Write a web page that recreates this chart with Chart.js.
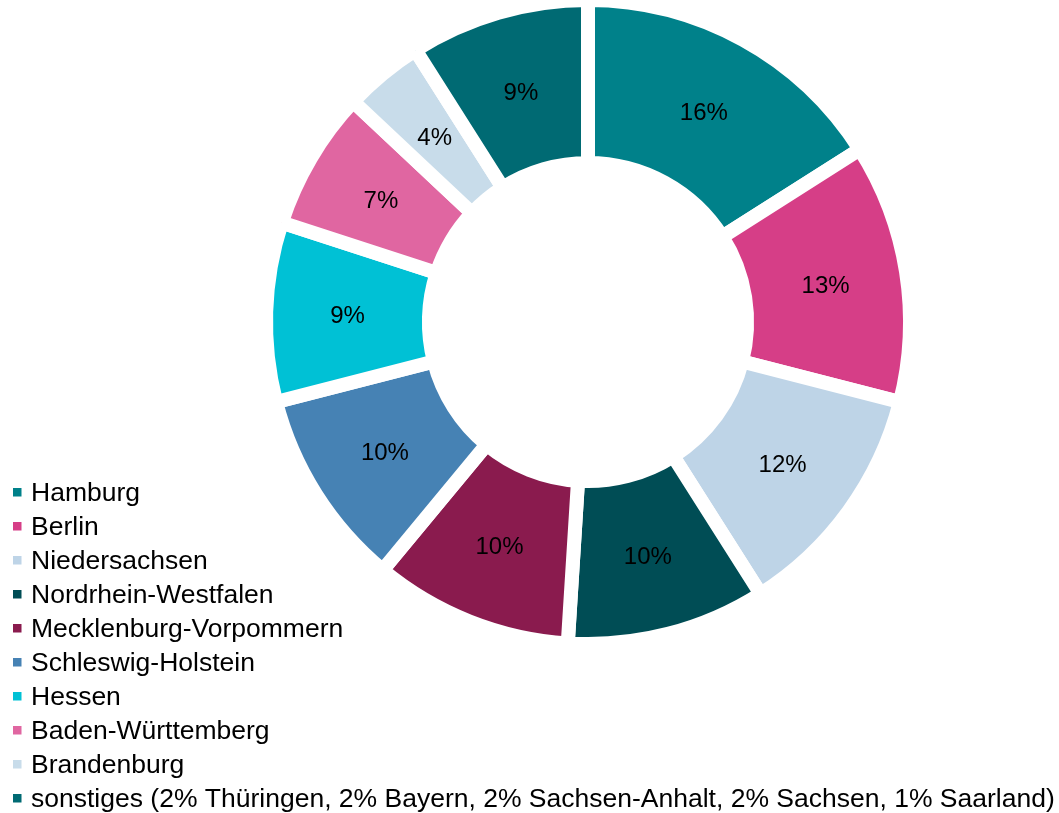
<!DOCTYPE html>
<html>
<head>
<meta charset="utf-8">
<script src="https://cdn.jsdelivr.net/npm/chart.js@4/dist/chart.umd.min.js"></script>
<style>
  html, body { margin: 0; padding: 0; background: #fff; }
  #wrap { position: relative; width: 1059px; height: 813px; }
</style>
</head>
<body>
<div id="wrap"><canvas id="myChart" width="1059" height="813"></canvas></div>
<script>
const regions = [
    'Hamburg',
    'Berlin',
    'Niedersachsen',
    'Nordrhein-Westfalen',
    'Mecklenburg-Vorpommern',
    'Schleswig-Holstein',
    'Hessen',
    'Baden-Württemberg',
    'Brandenburg',
    'sonstiges (2% Thüringen, 2% Bayern, 2% Sachsen-Anhalt, 2% Sachsen, 1% Saarland)'
];
const shares = [16, 13, 12, 10, 10, 10, 9, 7, 4, 9];
const sliceColors = [
    '#00818a', '#d63e87', '#bed4e7', '#004d55', '#8a1b4e',
    '#4682b4', '#00c1d5', '#e066a1', '#c8dcea', '#006a73'
];

const LABEL_FONT = '24px "Liberation Sans", Arial, sans-serif';
const LEGEND_FONT = '26.5px "Liberation Sans", Arial, sans-serif';

// percentage labels in the middle of each ring segment
const sliceLabels = {
    id: 'sliceLabels',
    afterDatasetsDraw(chart) {
        const ctx = chart.ctx;
        const meta = chart.getDatasetMeta(0);
        ctx.save();
        ctx.font = LABEL_FONT;
        ctx.fillStyle = '#000';
        ctx.textAlign = 'center';
        ctx.textBaseline = 'middle';
        meta.data.forEach((arc, i) => {
            const p = arc.getCenterPoint();
            ctx.fillText(shares[i] + '%', p.x, p.y + 2);
        });
        ctx.restore();
    }
};

// vertical legend in the bottom-left corner
const bottomLegend = {
    id: 'bottomLegend',
    afterDraw(chart) {
        const ctx = chart.ctx;
        const labels = chart.data.labels;
        const colors = chart.data.datasets[0].backgroundColor;
        ctx.save();
        ctx.font = LEGEND_FONT;
        ctx.textAlign = 'left';
        ctx.textBaseline = 'alphabetic';
        labels.forEach((label, i) => {
            const base = 501 + i * 34;
            ctx.fillStyle = colors[i];
            ctx.fillRect(13, base - 13, 8.5, 8.5);
            ctx.fillStyle = '#000';
            ctx.fillText(label, 31, base);
        });
        ctx.restore();
    }
};

const ctx = document.getElementById('myChart').getContext('2d');
new Chart(ctx, {
    type: 'doughnut',
    data: {
        labels: regions,
        datasets: [{
            data: shares,
            backgroundColor: sliceColors,
            borderColor: '#ffffff',
            borderWidth: 14,
            borderAlign: 'center',
            borderJoinStyle: 'miter',
            radius: 322,
            cutout: '49.4%'
        }]
    },
    options: {
        responsive: false,
        animation: false,
        events: [],
        layout: { padding: { left: 117, right: 0, top: 0, bottom: 169 } },
        plugins: {
            legend: { display: false },
            tooltip: { enabled: false }
        }
    },
    plugins: [sliceLabels, bottomLegend]
});
</script>
</body>
</html>
